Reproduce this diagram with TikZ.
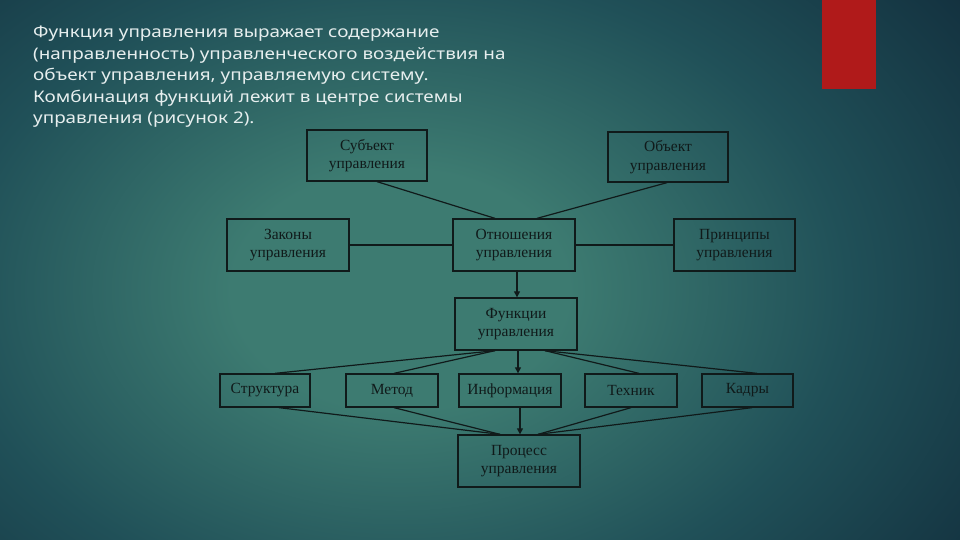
\documentclass[tikz,border=0pt]{standalone}
\usepackage{fontspec}
\setmainfont{Liberation Serif}
\newfontfamily\parafont[FakeStretch=1.18]{Noto Sans}
\usetikzlibrary{arrows.meta,calc}
\definecolor{bgc}{HTML}{3D7B71}
\definecolor{bgm}{HTML}{205058}
\definecolor{bge}{HTML}{13313F}
\definecolor{boxc}{HTML}{101A1A}
\definecolor{paratext}{HTML}{E6EEEE}
\definecolor{redbar}{HTML}{B01A1A}
\pgfdeclareradialshading{bgshade}{\pgfpoint{0bp}{0bp}}{color(0bp)=(bgc); color(6bp)=(bgc); color(16bp)=(bgm); color(25bp)=(bge); color(50bp)=(bge)}
\tikzset{
  box/.style={draw=boxc, line width=1.3pt, rectangle, inner sep=0pt, align=center,
    text=boxc, font=\fontsize{15.5}{18.5}\selectfont},
  conn/.style={draw=boxc, line width=1.2pt},
  arr/.style={conn, -{Triangle[length=6pt,width=6pt]}},
}
\begin{document}
\begin{tikzpicture}[x=1pt,y=-1pt]
\useasboundingbox (0,0) rectangle (960,540);
\begin{scope}
\clip (0,0) rectangle (960,540);
\shade[shading=bgshade] (400,290) ellipse [x radius=700, y radius=500];
\end{scope}
\fill[redbar] (822,0) rectangle (876,89);
\node[anchor=north west, text=paratext, align=left, inner sep=0pt,
  font=\parafont\fontsize{16}{21.5}\selectfont] (para) at (33,26)
  {Функция управления выражает содержание\\
   (направленность) управленческого воздействия на\\
   объект управления, управляемую систему.\\
   Комбинация функций лежит в центре системы\\
   управления (рисунок 2).};
% boxes
\node[box, minimum width=120, minimum height=51] (subj) at (367,155.5) {Субъект\\управления};
\node[box, minimum width=120, minimum height=50] (obj) at (668,157) {Объект\\управления};
\node[box, minimum width=122, minimum height=52] (zak) at (288,245) {Законы\\управления};
\node[box, minimum width=122, minimum height=52] (otn) at (514,245) {Отношения\\управления};
\node[box, minimum width=121, minimum height=52] (pri) at (734.5,245) {Принципы\\управления};
\node[box, minimum width=122, minimum height=52] (fun) at (516,324) {Функции\\управления};
\node[box, minimum width=90, minimum height=33] (str) at (265,390.5) {Структура};
\node[box, minimum width=92, minimum height=33] (met) at (392,390.5) {Метод};
\node[box, minimum width=102, minimum height=33] (inf) at (510,390.5) {Информация};
\node[box, minimum width=92, minimum height=33] (tex) at (631,390.5) {Техник};
\node[box, minimum width=91, minimum height=33] (kad) at (747.5,390.5) {Кадры};
\node[box, minimum width=122, minimum height=52] (pro) at (519,461) {Процесс\\управления};
% connectors
\draw[conn] ([xshift=10pt]subj.south) -- ([xshift=-19pt]otn.north);
\draw[conn] ([xshift=-1pt]obj.south) -- ([xshift=23pt]otn.north);
\draw[conn] (zak.east) -- (otn.west);
\draw[conn] (otn.east) -- (pri.west);
\draw[arr] ([xshift=3pt]otn.south) -- ([xshift=3pt]otn.south |- fun.north);
\draw[conn] ([xshift=-21pt]fun.south) -- ([xshift=10pt]str.north);
\draw[conn] ([xshift=-21pt]fun.south) -- ([xshift=2pt]met.north);
\draw[arr] ([xshift=2pt]fun.south) -- ([xshift=2pt]fun.south |- inf.north);
\draw[conn] ([xshift=29pt]fun.south) -- ([xshift=8pt]tex.north);
\draw[conn] ([xshift=29pt]fun.south) -- ([xshift=9.5pt]kad.north);
\draw[conn] ([xshift=14pt]str.south) -- ([xshift=-19pt]pro.north);
\draw[conn] ([xshift=2pt]met.south) -- ([xshift=-19pt]pro.north);
\draw[arr] ([xshift=10pt]inf.south) -- ([xshift=10pt]inf.south |- pro.north);
\draw[conn] (tex.south) -- ([xshift=19pt]pro.north);
\draw[conn] ([xshift=4.5pt]kad.south) -- ([xshift=19pt]pro.north);
\end{tikzpicture}
\end{document}
